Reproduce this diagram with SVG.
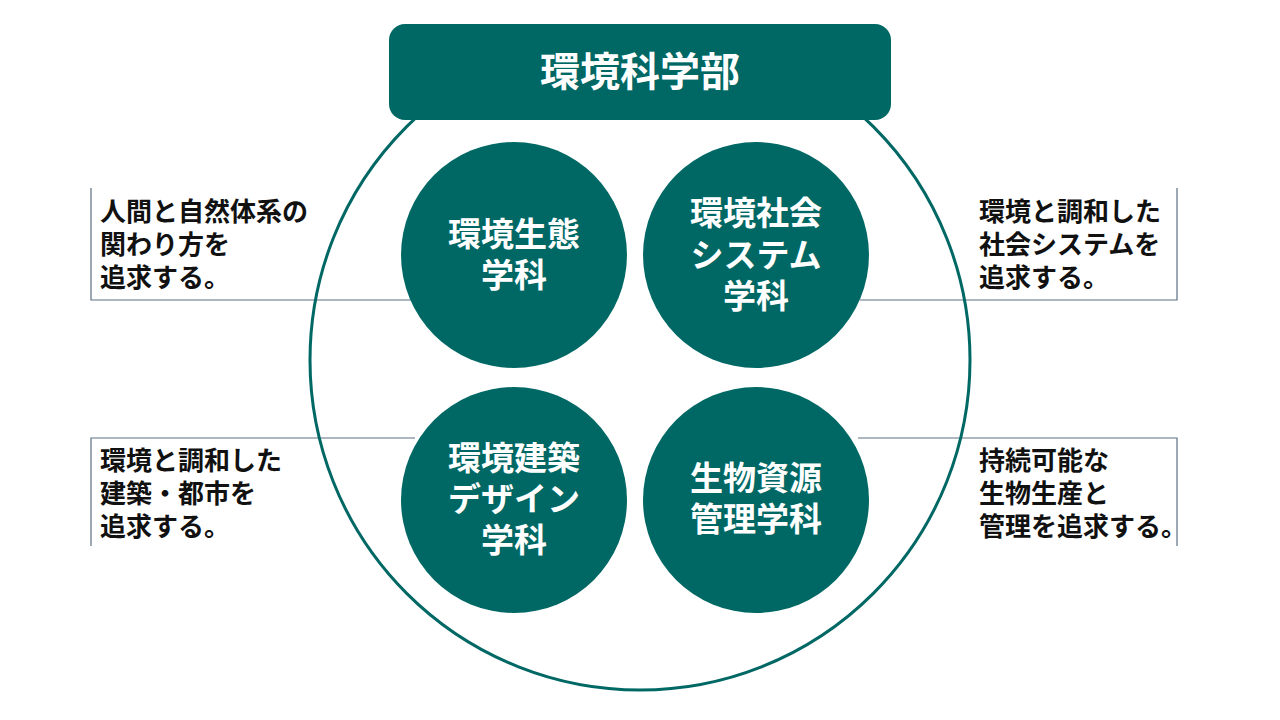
<svg xmlns="http://www.w3.org/2000/svg" width="1280" height="720" viewBox="0 0 1280 720">
<style>
.ln{stroke:#5b7183;stroke-width:1.2;fill:none}
.c{fill:#006864}
.t{font-family:"Noto Sans CJK JP",sans-serif;font-weight:bold;fill:#fff;font-size:33px;text-anchor:middle}
.s{font-family:"Noto Sans CJK JP",sans-serif;font-weight:bold;fill:#111;font-size:26px}
</style>
<rect width="1280" height="720" fill="#fff"/>
<g id="connectors">
<path class="ln" d="M91,188V300H412"/>
<path class="ln" d="M1177,188V300H860"/>
<path class="ln" d="M91,546V438H415"/>
<path class="ln" d="M1177,546V438H858"/>
</g>
<g id="outer"><circle cx="640" cy="360" r="330" fill="none" stroke="#006864" stroke-width="3"/></g>
<g id="header"><rect x="389" y="24" width="502" height="96" rx="16" class="c"/><text x="640" y="86" class="t" style="font-size:40px">環境科学部</text></g>
<g id="n1"><circle cx="514" cy="255" r="113" class="c"/><text class="t" x="514" y="246">環境生態</text><text class="t" x="514" y="287">学科</text></g>
<g id="n2"><circle cx="756" cy="255" r="113" class="c"/><text class="t" x="756" y="225">環境社会</text><text class="t" x="756" y="267">システム</text><text class="t" x="756" y="308">学科</text></g>
<g id="n3"><circle cx="514" cy="500" r="113" class="c"/><text class="t" x="514" y="470">環境建築</text><text class="t" x="514" y="511">デザイン</text><text class="t" x="514" y="552">学科</text></g>
<g id="n4"><circle cx="756" cy="500" r="113" class="c"/><text class="t" x="756" y="490">生物資源</text><text class="t" x="756" y="531">管理学科</text></g>
<g id="l1"><text class="s" x="100" y="221">人間と自然体系の</text><text class="s" x="100" y="254">関わり方を</text><text class="s" x="100" y="287">追求する。</text></g>
<g id="l2"><text class="s" x="979" y="221">環境と調和した</text><text class="s" x="979" y="254">社会システムを</text><text class="s" x="979" y="287">追求する。</text></g>
<g id="l3"><text class="s" x="100" y="470">環境と調和した</text><text class="s" x="100" y="503">建築・都市を</text><text class="s" x="100" y="536">追求する。</text></g>
<g id="l4"><text class="s" x="979" y="470">持続可能な</text><text class="s" x="979" y="503">生物生産と</text><text class="s" x="979" y="536">管理を追求する。</text></g>
</svg>
